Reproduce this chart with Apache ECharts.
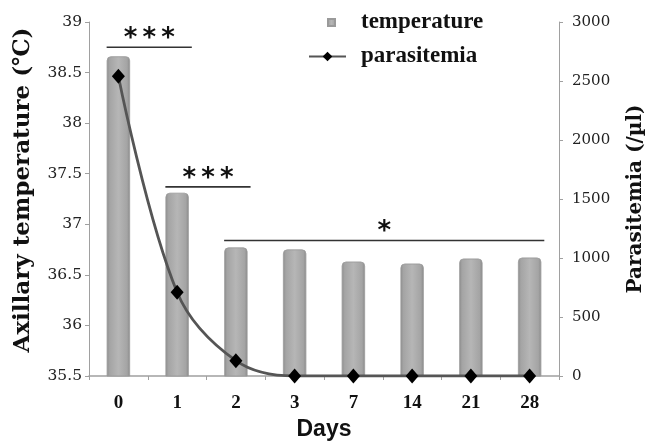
<!DOCTYPE html>
<html>
<head>
<meta charset="utf-8">
<script src="https://cdn.jsdelivr.net/npm/echarts@6/dist/echarts.min.js"></script>
<style>
html,body{margin:0;padding:0;background:#fff;}
#main{width:647px;height:442px;}
</style>
</head>
<body>
<div id="main"></div>
<script>
var days = ['0', '1', '2', '3', '7', '14', '21', '28'];
var temperature = [38.66, 37.31, 36.77, 36.75, 36.63, 36.61, 36.66, 36.67];
var parasitemia = [2540, 710, 130, 0, 0, 0, 0, 0];
var tempTicks = {min: 35.5, max: 39, interval: 0.5};
var paraTicks = {min: 0, max: 3000, interval: 500};
// significance brackets: [startCategory, endCategory, yValue, label]
var brackets = [
  [0, 1, 38.75, '*\u2009*\u2009*'],
  [1, 2, 37.37, '*\u2009*\u2009*'],
  [2, 7, 36.84, '*']
];

var chart = echarts.init(document.getElementById('main'));
var axisGray = '#a0a0a0';
var barGrad = new echarts.graphic.LinearGradient(0, 0, 1, 0, [
  {offset: 0, color: '#8e8e8e'},
  {offset: 0.12, color: '#a4a4a4'},
  {offset: 0.5, color: '#b6b6b6'},
  {offset: 0.88, color: '#a4a4a4'},
  {offset: 1, color: '#8a8a8a'}
]);

var option = {
  animation: false,
  backgroundColor: '#ffffff',
  grid: {left: 89, right: 88, top: 22, bottom: 66, containLabel: false, outerBoundsMode: 'none'},
  legend: [
    {
      data: ['temperature'], left: 327, top: 11, padding: 0,
      icon: 'rect', itemWidth: 7, itemHeight: 7,
      textStyle: {fontFamily: 'Liberation Serif', fontWeight: 'bold', fontSize: 23, color: '#111', padding: [0, 0, 0, 21]}
    },
    {
      data: ['parasitemia'], left: 308, top: 45, padding: 0,
      itemWidth: 37, itemHeight: 12,
      textStyle: {fontFamily: 'Liberation Serif', fontWeight: 'bold', fontSize: 23, color: '#111', padding: [0, 0, 0, 10]}
    }
  ],
  xAxis: {
    type: 'category',
    data: days,
    boundaryGap: true,
    name: 'Days',
    nameLocation: 'middle',
    nameGap: 42,
    nameTextStyle: {fontFamily: 'Liberation Sans', fontWeight: 'bold', fontSize: 23, color: '#111'},
    axisLine: {show: true, lineStyle: {color: axisGray, width: 1.5}},
    axisTick: {show: true, length: 4, lineStyle: {color: axisGray}},
    axisLabel: {margin: 18, fontFamily: 'Liberation Serif', fontWeight: 'bold', fontSize: 19, color: '#111'},
    splitLine: {show: false}
  },
  yAxis: [
    {
      type: 'value',
      min: tempTicks.min, max: tempTicks.max, interval: tempTicks.interval,
      name: 'Axillary temperature (\u2103)',
      nameLocation: 'middle',
      nameGap: 54,
      nameTextStyle: {fontFamily: 'DejaVu Serif', fontWeight: 'bold', fontSize: 23, color: '#111', padding: [0, 0, 0, 18]},
      axisLine: {show: true, lineStyle: {color: axisGray, width: 1}},
      axisTick: {show: true, length: 4, lineStyle: {color: axisGray}},
      axisLabel: {margin: 7, fontFamily: 'DejaVu Serif', fontSize: 15.5, color: '#222'},
      splitLine: {show: false}
    },
    {
      type: 'value',
      min: paraTicks.min, max: paraTicks.max, interval: paraTicks.interval,
      name: 'Parasitemia (/\u00b5l)',
      nameLocation: 'middle',
      nameGap: 67,
      nameTextStyle: {fontFamily: 'DejaVu Serif', fontWeight: 'bold', fontSize: 20, color: '#111'},
      axisLine: {show: true, lineStyle: {color: axisGray, width: 1}},
      axisTick: {show: true, length: 4, lineStyle: {color: axisGray}},
      axisLabel: {margin: 13, fontFamily: 'DejaVu Serif', fontSize: 15, color: '#222',
        formatter: function (v) { return String(v); }},
      splitLine: {show: false}
    }
  ],
  series: [
    {
      name: 'temperature',
      type: 'bar',
      yAxisIndex: 0,
      data: temperature,
      barWidth: 23,
      itemStyle: {color: barGrad, borderRadius: [4, 4, 0, 0], borderColor: '#9a9a9a', borderWidth: 0.5},
      z: 2
    },
    {
      name: 'parasitemia',
      type: 'line',
      yAxisIndex: 1,
      data: parasitemia,
      smooth: 0.35,
      symbol: 'diamond',
      symbolSize: [13, 15],
      itemStyle: {color: '#000'},
      lineStyle: {color: '#555', width: 2.8},
      z: 5
    }
  ]
};
chart.setOption(option);

var graphics = [];
var band = chart.convertToPixel({xAxisIndex: 0}, days[1]) - chart.convertToPixel({xAxisIndex: 0}, days[0]);
brackets.forEach(function (b) {
  var x1 = chart.convertToPixel({xAxisIndex: 0}, days[b[0]]) - band * 0.2;
  var x2 = chart.convertToPixel({xAxisIndex: 0}, days[b[1]]) + band * 0.25;
  var y = chart.convertToPixel({yAxisIndex: 0}, b[2]);
  graphics.push({
    type: 'line', silent: true, z: 10,
    shape: {x1: x1, y1: y, x2: x2, y2: y},
    style: {stroke: '#333', lineWidth: 1.6}
  });
  graphics.push({
    type: 'text', silent: true, z: 10,
    x: (x1 + x2) / 2, y: y - 8,
    style: {text: b[3], fontFamily: 'DejaVu Sans', fontWeight: 'bold', fontSize: 26, fill: '#111', align: 'center', verticalAlign: 'middle'}
  });
});
chart.setOption({graphic: graphics});
</script>
</body>
</html>
